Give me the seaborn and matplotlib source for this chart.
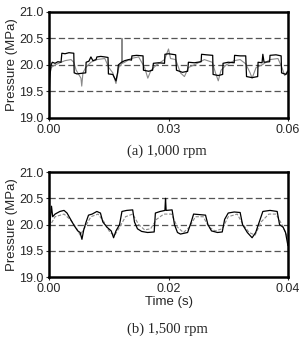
"""
pressure_traces.py

Two stacked panels of measured pressure against time at 1,000 and 1,500 rpm.
"""

import pandas as pd
import matplotlib.pyplot as plt
import seaborn as sns

# Panel (a) 1,000 rpm: measured trace (black) and second trace (grey)
TIME_A = [0.0000, 0.0002, 0.0005, 0.0008, 0.0015, 0.0022, 0.0030, 0.0032, 0.0040, 0.0050,
          0.0062, 0.0063, 0.0070, 0.0080, 0.0092, 0.0093, 0.0100, 0.0105, 0.0110, 0.0118,
          0.0120, 0.0130, 0.0140, 0.0148, 0.0149, 0.0160, 0.0168, 0.0172, 0.0174, 0.0182,
          0.0190, 0.0200, 0.0207, 0.0208, 0.0220, 0.0236, 0.0237, 0.0250, 0.0260,
          0.0262, 0.0275, 0.0290, 0.0291, 0.0300, 0.0318, 0.0320, 0.0335, 0.0348, 0.0350,
          0.0365, 0.0382, 0.0383, 0.0395, 0.0411, 0.0412, 0.0425, 0.0436, 0.0437, 0.0450,
          0.0465, 0.0466, 0.0480, 0.0494, 0.0496, 0.0510, 0.0524, 0.0525, 0.0535, 0.0537,
          0.0540, 0.0554, 0.0555, 0.0570, 0.0583, 0.0584, 0.0595, 0.0600]
PRESS_A = [19.45, 19.80, 20.00, 20.05, 20.03, 20.06, 20.05, 20.22, 20.21, 20.23,
           20.22, 19.85, 19.83, 19.84, 19.85, 20.05, 20.07, 20.15, 20.08, 20.10,
           20.15, 20.16, 20.15, 20.14, 19.83, 19.82, 19.70, 19.85, 20.00, 20.05,
           20.08, 20.10, 20.09, 20.17, 20.18, 20.17, 19.90, 19.88, 19.90,
           20.03, 20.04, 20.03, 20.20, 20.21, 20.19, 19.90, 19.86, 19.88, 20.05,
           20.04, 20.06, 20.20, 20.19, 20.18, 19.82, 19.80, 19.82, 20.03, 20.05,
           20.04, 20.18, 20.17, 20.17, 19.78, 19.76, 19.78, 20.05, 20.04, 20.20,
           20.05, 20.06, 20.18, 20.19, 20.17, 19.85, 19.82, 19.88]

TIME_A_REF = [0.0000, 0.0005, 0.0015, 0.0030, 0.0040, 0.0055, 0.0062, 0.0068, 0.0080, 0.0082,
              0.0085, 0.0092, 0.0105, 0.0120, 0.0140, 0.0150, 0.0160, 0.0168, 0.0175, 0.0182,
              0.0183, 0.0184, 0.0190,
              0.0205, 0.0225, 0.0240, 0.0248, 0.0256, 0.0270, 0.0290, 0.0300, 0.0305, 0.0318,
              0.0330, 0.0340, 0.0350, 0.0370, 0.0390, 0.0410, 0.0418, 0.0425, 0.0432, 0.0445,
              0.0465, 0.0480, 0.0494, 0.0505, 0.0510, 0.0520, 0.0535, 0.0555, 0.0575, 0.0585,
              0.0592, 0.0600]
PRESS_A_REF = [19.70, 19.95, 20.00, 20.05, 20.08, 20.10, 20.05, 19.90, 19.75, 19.60,
               19.85, 19.95, 20.05, 20.10, 20.12, 19.95, 19.85, 19.65, 19.95, 20.02,
               20.50, 20.03, 20.05,
               20.12, 20.15, 19.95, 19.75, 19.90, 20.00, 20.10, 20.30, 20.12, 20.10,
               19.85, 19.78, 19.95, 20.02, 20.10, 20.05, 19.85, 19.70, 19.90, 20.00,
               20.08, 20.10, 20.02, 19.85, 19.75, 19.95, 20.00, 20.10, 20.12, 19.95,
               19.80, 19.90]

# Panel (b) 1,500 rpm
TIME_B = [0.0000, 0.0002, 0.0004, 0.0006, 0.0010, 0.0018, 0.0025, 0.0030, 0.0036, 0.0042,
          0.0048, 0.0052, 0.0055, 0.0058, 0.0062, 0.0066, 0.0072, 0.0080, 0.0086, 0.0090,
          0.0097, 0.0104, 0.0108, 0.0112, 0.0118, 0.0122, 0.0130, 0.0140, 0.0143, 0.0148,
          0.0155, 0.0165, 0.0176, 0.0178, 0.0186, 0.0194, 0.0195, 0.0196, 0.0206, 0.0210,
          0.0215, 0.0220, 0.0232, 0.0238, 0.0242, 0.0252, 0.0262, 0.0266, 0.0272, 0.0282,
          0.0290, 0.0294, 0.0300, 0.0310, 0.0320, 0.0324, 0.0332, 0.0340, 0.0346, 0.0352,
          0.0358, 0.0370, 0.0382, 0.0386, 0.0392, 0.0396, 0.0400]
PRESS_B = [19.80, 20.10, 20.35, 20.15, 20.20, 20.25, 20.27, 20.22, 20.10, 19.98,
           19.88, 19.85, 19.72, 19.90, 20.05, 20.18, 20.20, 20.25, 20.22, 20.05,
           19.95, 19.88, 19.75, 19.88, 20.00, 20.25, 20.27, 20.28, 20.05, 19.92,
           19.87, 19.85, 19.86, 20.22, 20.25, 20.27, 20.50, 20.27, 20.28, 20.00,
           19.85, 19.82, 19.85, 20.05, 20.20, 20.19, 20.18, 20.00, 19.88, 19.85,
           19.86, 20.10, 20.22, 20.24, 20.23, 20.00, 19.85, 19.75, 19.85, 20.05,
           20.25, 20.27, 20.25, 20.00, 19.95, 19.85, 19.60]

TIME_B_REF = [0.0000, 0.0010, 0.0025, 0.0035, 0.0045, 0.0052, 0.0060, 0.0070, 0.0082, 0.0092,
              0.0102, 0.0110, 0.0118, 0.0128, 0.0140, 0.0150, 0.0160, 0.0170, 0.0180, 0.0192,
              0.0205, 0.0215, 0.0225, 0.0235, 0.0245, 0.0258, 0.0268, 0.0278, 0.0290, 0.0300,
              0.0315, 0.0325, 0.0335, 0.0345, 0.0355, 0.0368, 0.0380, 0.0390, 0.0400]
PRESS_B_REF = [19.95, 20.15, 20.20, 20.10, 19.95, 19.80, 19.95, 20.15, 20.20, 20.05,
               19.85, 19.80, 19.95, 20.15, 20.20, 20.00, 19.90, 19.92, 20.10, 20.20,
               20.20, 19.95, 19.85, 19.95, 20.15, 20.15, 19.95, 19.88, 19.92, 20.15,
               20.20, 20.00, 19.85, 19.80, 20.05, 20.20, 20.20, 20.00, 19.75]

REF_LEVELS = [19.5, 20.0, 20.5]
Y_TICKS = [19.0, 19.5, 20.0, 20.5, 21.0]
X_TICKS_A = [0.0, 0.03, 0.06]
X_TICKS_B = [0.0, 0.02, 0.04]

SANS = ["Liberation Sans", "DejaVu Sans"]
SERIF = ["Liberation Serif", "DejaVu Serif"]

sns.set_style("white")
plt.rcParams["font.family"] = SANS


def draw_panel(ax, t, p, t_ref, p_ref, xticks, ref_dash):
    ref = pd.DataFrame({"t": t_ref, "p": p_ref})
    meas = pd.DataFrame({"t": t, "p": p})
    for lev in REF_LEVELS:
        ax.axhline(lev, color="#555555", lw=0.9, ls=(0, (5, 2.5)), zorder=1)
    sns.lineplot(data=ref, x="t", y="p", ax=ax, color="#8a8a8a", lw=0.8,
                 sort=False, estimator=None, linestyle=ref_dash, zorder=2)
    sns.lineplot(data=meas, x="t", y="p", ax=ax, color="black", lw=0.9,
                 sort=False, estimator=None, zorder=3)
    ax.set_xlim(xticks[0], xticks[-1])
    ax.set_ylim(19.0, 21.0)
    ax.set_xticks(xticks)
    ax.set_xticklabels([f"{v:.2f}" for v in xticks])
    ax.set_yticks(Y_TICKS)
    ax.set_yticklabels([f"{v:.1f}" for v in Y_TICKS])
    ax.tick_params(labelsize=9, length=2.5, width=0.8, direction="out", pad=1.5,
                   bottom=True, left=True)
    for s in ax.spines.values():
        s.set_linewidth(1.8)
        s.set_color("black")
    ax.set_ylabel("Pressure (MPa)", fontsize=9.5, labelpad=1)
    ax.set_xlabel("")


fig = plt.figure(figsize=(3.05, 3.38), dpi=100)
ax_a = fig.add_axes([0.161, 0.651, 0.783, 0.314])
ax_b = fig.add_axes([0.161, 0.180, 0.783, 0.311])

draw_panel(ax_a, TIME_A, PRESS_A, TIME_A_REF, PRESS_A_REF, X_TICKS_A, "-")
draw_panel(ax_b, TIME_B, PRESS_B, TIME_B_REF, PRESS_B_REF, X_TICKS_B, (0, (3, 1.5)))
ax_b.set_xlabel("Time (s)", fontsize=9.5, labelpad=1)

fig.text(0.548, 1 - 151 / 338, "(a) 1,000 rpm", ha="center", va="center",
         fontsize=10.5, family=SERIF)
fig.text(0.548, 1 - 329 / 338, "(b) 1,500 rpm", ha="center", va="center",
         fontsize=10.5, family=SERIF)

fig.savefig("out.png", dpi=100)
